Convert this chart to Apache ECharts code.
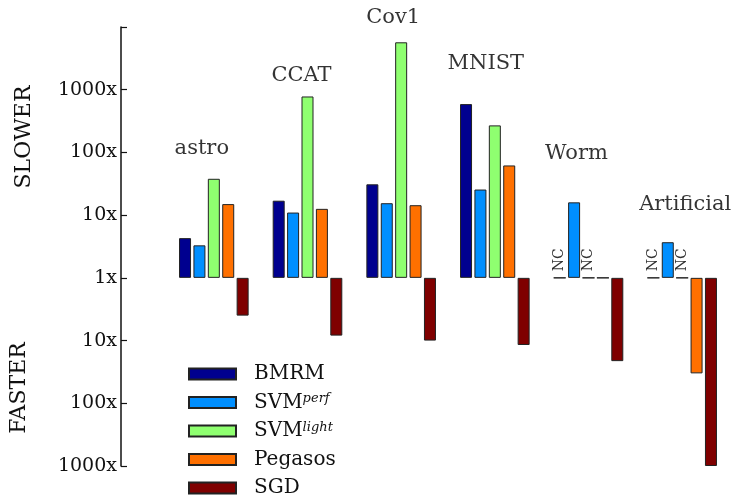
<!DOCTYPE html>
<html><head><meta charset="utf-8">
<script src="https://cdn.jsdelivr.net/npm/echarts@6/dist/echarts.min.js"></script>
<style>html,body{margin:0;padding:0;background:#fff}#c{width:732px;height:496px}</style>
</head><body><div id="c"></div>
<script>
// Categories (datasets)
const datasets = ['astro', 'CCAT', 'Cov1', 'MNIST', 'Worm', 'Artificial'];
// Series names
const seriesNames = ['BMRM', 'SVMperf', 'SVMlight', 'Pegasos', 'SGD'];
// Training time relative to reference (>1 = slower, <1 = faster, 1 = same / NC)
const bmrm     = [4.3, 17, 31, 590, 1, 1];
const svmPerf  = [3.3, 11, 15.5, 25.6, 16, 3.7];
const svmLight = [38, 780, 5700, 270, 1, 1];
const pegasos  = [15, 12.6, 14.4, 62, 1, 0.03];
const sgd      = [0.25, 0.12, 0.1, 0.085, 0.047, 0.001];
// "NC" (did not converge) markers
const ncBmrm     = [false, false, false, false, true, true];
const ncSvmLight = [false, false, false, false, true, true];
// Tick labels, from 1/1000 up to 10000
const tickLabels = ['1000x', '100x', '10x', '1x', '10x', '100x', '1000x', ''];
// Height (in axis units) at which each dataset name is written
const nameHeights = [117, 1700, 14000, 2570, 96, 15];

const colors = ['#00008f', '#008fff', '#8fff70', '#ff7000', '#7f0000'];
const FONT = 'DejaVu Serif';
const allValues = [bmrm, svmPerf, svmLight, pegasos, sgd];
const ncFlags = [ncBmrm, null, ncSvmLight, null, null];
const nameShift = [-12, -6, -8, -9, -12, 3];

const chart = echarts.init(document.getElementById('c'));

const barSeries = seriesNames.map((n, i) => ({
  name: n,
  type: 'bar',
  data: allValues[i],
  barWidth: 12,
  barGap: '20%',
  itemStyle: { color: colors[i], borderColor: '#222', borderWidth: 1 },
  label: {
    show: !!ncFlags[i],
    position: 'top',
    rotate: 90,
    align: 'left',
    verticalAlign: 'middle',
    distance: 6,
    fontFamily: FONT,
    fontSize: 14,
    color: '#333',
    formatter: p => (ncFlags[i] && ncFlags[i][p.dataIndex]) ? 'NC' : ''
  },
  silent: true
}));

const nameSeries = {
  type: 'scatter',
  data: nameHeights.map((h, k) => ({
    value: h,
    label: { offset: [nameShift[k], 0] }
  })),
  symbol: 'circle',
  symbolSize: 1,
  itemStyle: { color: 'rgba(255,255,255,0)' },
  clip: false,
  silent: true,
  label: {
    show: true,
    position: 'inside',
    formatter: p => datasets[p.dataIndex],
    fontFamily: FONT,
    fontSize: 21,
    color: '#000',
    textBorderWidth: 0
  },
  z: 5
};

const legendNames = {
  BMRM: 'BMRM',
  SVMperf: 'SVM{sup|perf}',
  SVMlight: 'SVM{sup|light}',
  Pegasos: 'Pegasos',
  SGD: 'SGD'
};

chart.setOption({
  animation: false,
  color: colors,
  textStyle: { fontFamily: FONT },
  grid: { left: 167, right: 3, top: 27, bottom: 30, containLabel: false },
  xAxis: {
    type: 'category',
    data: datasets,
    show: false
  },
  yAxis: {
    type: 'log',
    logBase: 10,
    min: 0.001,
    max: 10000,
    offset: 46,
    axisLine: { show: true, lineStyle: { color: '#111', width: 1.5 } },
    axisTick: { show: true, inside: true, length: 6, lineStyle: { color: '#111', width: 1.2 } },
    splitLine: { show: false },
    minorTick: { show: false },
    axisLabel: {
      fontFamily: FONT,
      fontSize: 19,
      color: '#111',
      margin: 4,
      formatter: v => tickLabels[Math.round(Math.log10(v)) + 3]
    }
  },
  legend: {
    data: seriesNames,
    orient: 'vertical',
    left: 188,
    top: 364,
    height: 200,
    padding: 0,
    itemWidth: 47,
    itemHeight: 11,
    itemGap: 8.5,
    selectedMode: false,
    icon: 'rect',
    formatter: n => legendNames[n],
    textStyle: {
      fontFamily: FONT,
      fontSize: 20,
      color: '#111',
      lineHeight: 20,
      padding: [0, 0, 0, 13],
      rich: {
        sup: { fontFamily: FONT, fontSize: 13, fontStyle: 'italic', color: '#111', lineHeight: 6, verticalAlign: 'top' }
      }
    }
  },
  graphic: [
    {
      type: 'text', x: 24, y: 137, rotation: Math.PI / 2,
      style: { text: 'SLOWER', font: '22px ' + FONT, fill: '#111', textAlign: 'center', textVerticalAlign: 'middle' }
    },
    {
      type: 'text', x: 19, y: 388, rotation: Math.PI / 2,
      style: { text: 'FASTER', font: '22px ' + FONT, fill: '#111', textAlign: 'center', textVerticalAlign: 'middle' }
    }
  ],
  series: [...barSeries, nameSeries]
});
</script>
</body></html>
